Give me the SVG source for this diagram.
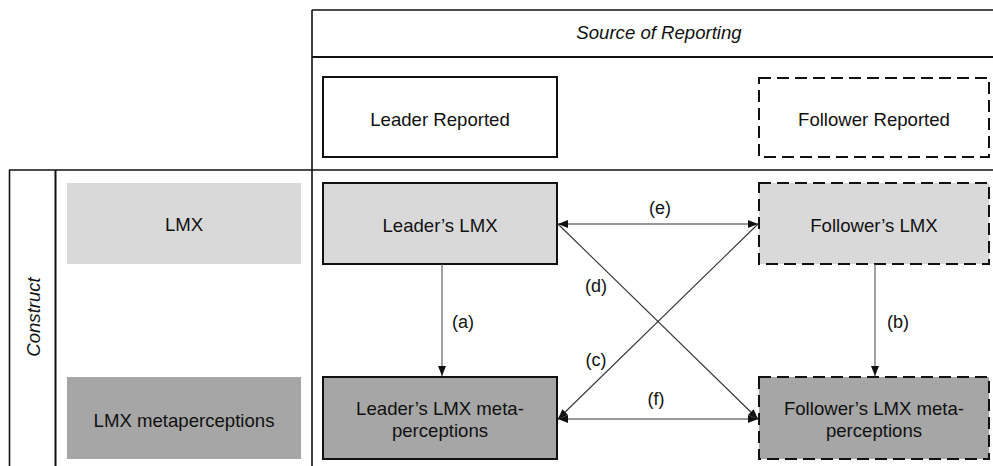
<svg xmlns="http://www.w3.org/2000/svg" width="993" height="466" viewBox="0 0 993 466">
<style>
text{font-family:"Liberation Sans",Arial,Helvetica,sans-serif;font-size:18.6px;fill:#111;text-anchor:middle}
.it{font-style:italic}
.grid{stroke:#111;stroke-width:1.6;fill:none}
.box{stroke:#111;stroke-width:2}
.dash{stroke-dasharray:12 6}
.l1{fill:#d9d9d9}
.l2{fill:#a6a6a6}
.w{fill:#fff}
.arr{stroke:#555;stroke-width:1.1;fill:none}
.lbl{font-size:18px}
</style>
<defs>
<marker id="ah" viewBox="0 0 10 10" refX="10" refY="5" markerWidth="10" markerHeight="10" markerUnits="userSpaceOnUse" orient="auto-start-reverse">
<path d="M0,1 L10,5 L0,9 Z" fill="#111"/>
</marker>
</defs>
<g id="frame">
<line class="grid" x1="312" y1="10" x2="993" y2="10"/>
<line class="grid" x1="312" y1="57" x2="993" y2="57" style="stroke-width:2.2"/>
<line class="grid" x1="312" y1="10" x2="312" y2="466"/>
<line class="grid" x1="9" y1="170" x2="993" y2="170"/>
<line class="grid" x1="9.5" y1="170" x2="9.5" y2="466"/>
<line class="grid" x1="55.5" y1="170" x2="55.5" y2="466" style="stroke-width:2"/>
<text class="it" x="659" y="39">Source of Reporting</text>
<text class="it" transform="translate(40,317) rotate(-90)">Construct</text>
</g>
<g id="leader-reported">
<rect class="box w" x="323" y="77" width="234" height="80"/>
<text x="440" y="126">Leader Reported</text>
</g>
<g id="follower-reported">
<rect class="box w dash" x="759" y="78" width="230" height="79"/>
<text x="874" y="126">Follower Reported</text>
</g>
<g id="row-lmx">
<rect class="l1" x="67" y="183" width="234" height="81"/>
<text x="184" y="231">LMX</text>
</g>
<g id="row-meta">
<rect class="l2" x="67" y="377" width="234" height="82"/>
<text x="184" y="427">LMX metaperceptions</text>
</g>
<g id="leader-lmx">
<rect class="box l1" x="323" y="183" width="234" height="81"/>
<text x="440" y="232">Leader’s LMX</text>
</g>
<g id="follower-lmx">
<rect class="box l1 dash" x="759" y="183" width="230" height="81"/>
<text x="874" y="232">Follower’s LMX</text>
</g>
<g id="leader-meta">
<rect class="box l2" x="323" y="377" width="234" height="82"/>
<text x="440" y="415">Leader’s LMX meta-</text>
<text x="440" y="437">perceptions</text>
</g>
<g id="follower-meta">
<rect class="box l2 dash" x="759" y="377" width="230" height="82"/>
<text x="874" y="415">Follower’s LMX meta-</text>
<text x="874" y="437">perceptions</text>
</g>
<g id="connectors">
<line class="arr" x1="442" y1="264" x2="442" y2="376" marker-end="url(#ah)"/>
<line class="arr" x1="875" y1="264" x2="875" y2="376" marker-end="url(#ah)"/>
<line class="arr" style="stroke:#333" x1="558" y1="224" x2="758" y2="224" marker-start="url(#ah)" marker-end="url(#ah)"/>
<line class="arr" style="stroke:#333" x1="558" y1="419" x2="758" y2="419" marker-start="url(#ah)" marker-end="url(#ah)"/>
<line class="arr" style="stroke:#333" x1="558" y1="224" x2="758" y2="419" marker-end="url(#ah)"/>
<line class="arr" style="stroke:#333" x1="758" y1="224" x2="558" y2="419" marker-end="url(#ah)"/>
<text class="lbl" x="463" y="328">(a)</text>
<text class="lbl" x="898" y="328">(b)</text>
<text class="lbl" x="596" y="366">(c)</text>
<text class="lbl" x="596" y="292">(d)</text>
<text class="lbl" x="660" y="214">(e)</text>
<text class="lbl" x="656" y="405">(f)</text>
</g>
</svg>
